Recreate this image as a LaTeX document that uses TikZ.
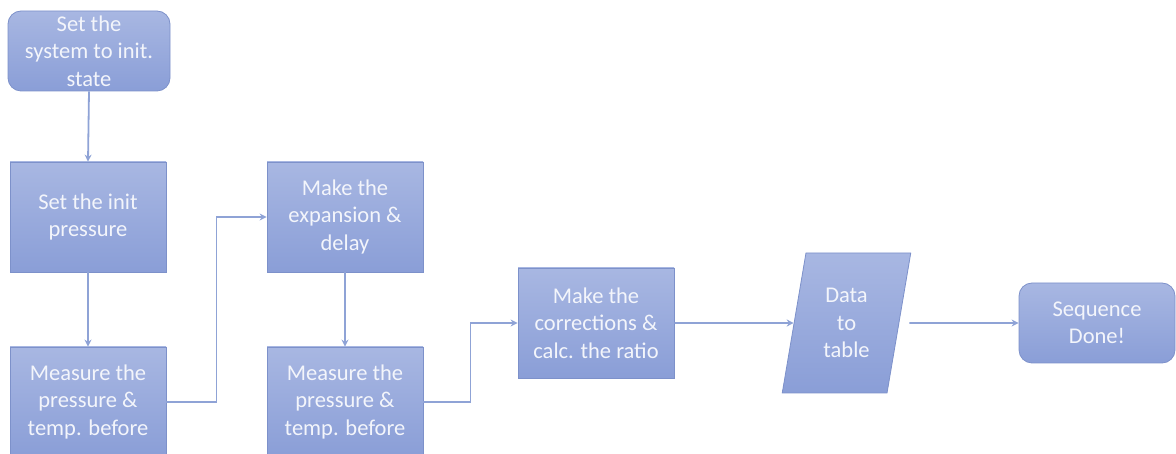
\documentclass[tikz,border=0pt]{standalone}
\usepackage{fontspec}
\setmainfont{Carlito}
\usetikzlibrary{arrows.meta,shapes.geometric,calc}
\definecolor{boxtop}{HTML}{A8B7E2}
\definecolor{boxbot}{HTML}{8A9ED7}
\definecolor{boxline}{HTML}{7D91CA}
\definecolor{conn}{HTML}{8FA3D6}
\definecolor{txt}{HTML}{F3F5FB}
\tikzset{
  stepbox/.style={rectangle, draw=boxline, line width=0.8pt, top color=boxtop, bottom color=boxbot,
    minimum width=156pt, minimum height=110pt, inner sep=0pt, align=center, text=txt,
    font=\fontsize{22.5}{27.5}\selectfont},
  termbox/.style={stepbox, rounded corners=13pt, minimum height=80pt},
  iobox/.style={trapezium, trapezium left angle=79, trapezium right angle=101, trapezium stretches=true,
    draw=boxline, line width=0.8pt, top color=boxtop, bottom color=boxbot,
    minimum width=129pt, minimum height=140pt, inner sep=0pt, align=center, text=txt,
    font=\fontsize{22.5}{27.5}\selectfont},
  conn/.style={draw=conn, line width=1.8pt, -{Stealth[length=7pt,width=7pt]}}
}
\begin{document}
\begin{tikzpicture}[x=1pt,y=-1pt]
\useasboundingbox (0,0) rectangle (1176,454);
\node[termbox, minimum width=162pt] (n1) at (89,51) {Set the\\system to init.\\state};
\node[stepbox] (n2) at (88,217) {Set the init\\pressure};
\node[stepbox] (n3) at (88,402) {Measure the\\pressure \&\\temp. before};
\node[stepbox] (n4) at (345,217) {Make the\\expansion \&\\delay};
\node[stepbox] (n5) at (345,402) {Measure the\\pressure \&\\temp. before};
\node[stepbox] (n6) at (596,323) {Make the\\corrections \&\\calc. the ratio};
\node[iobox] (n7) at (846.5,323) {Data\\to\\table};
\node[termbox] (n8) at (1097,323) {Sequence\\Done!};
\draw[conn] (n1.south) -- (n2.north);
\draw[conn] (n2.south) -- (n3.north);
\draw[conn] (n3.east) -| ($(n3.east)!.5!(n4.west)$) |- (n4.west);
\draw[conn] (n4.south) -- (n5.north);
\draw[conn] (n5.east) -| ($(n5.east)!.5!(n6.west)$) |- (n6.west);
\draw[conn] (n6.east) -- (n7.west);
\draw[conn, shorten <=10pt] (n7.east) -- (n8.west);
\end{tikzpicture}
\end{document}
